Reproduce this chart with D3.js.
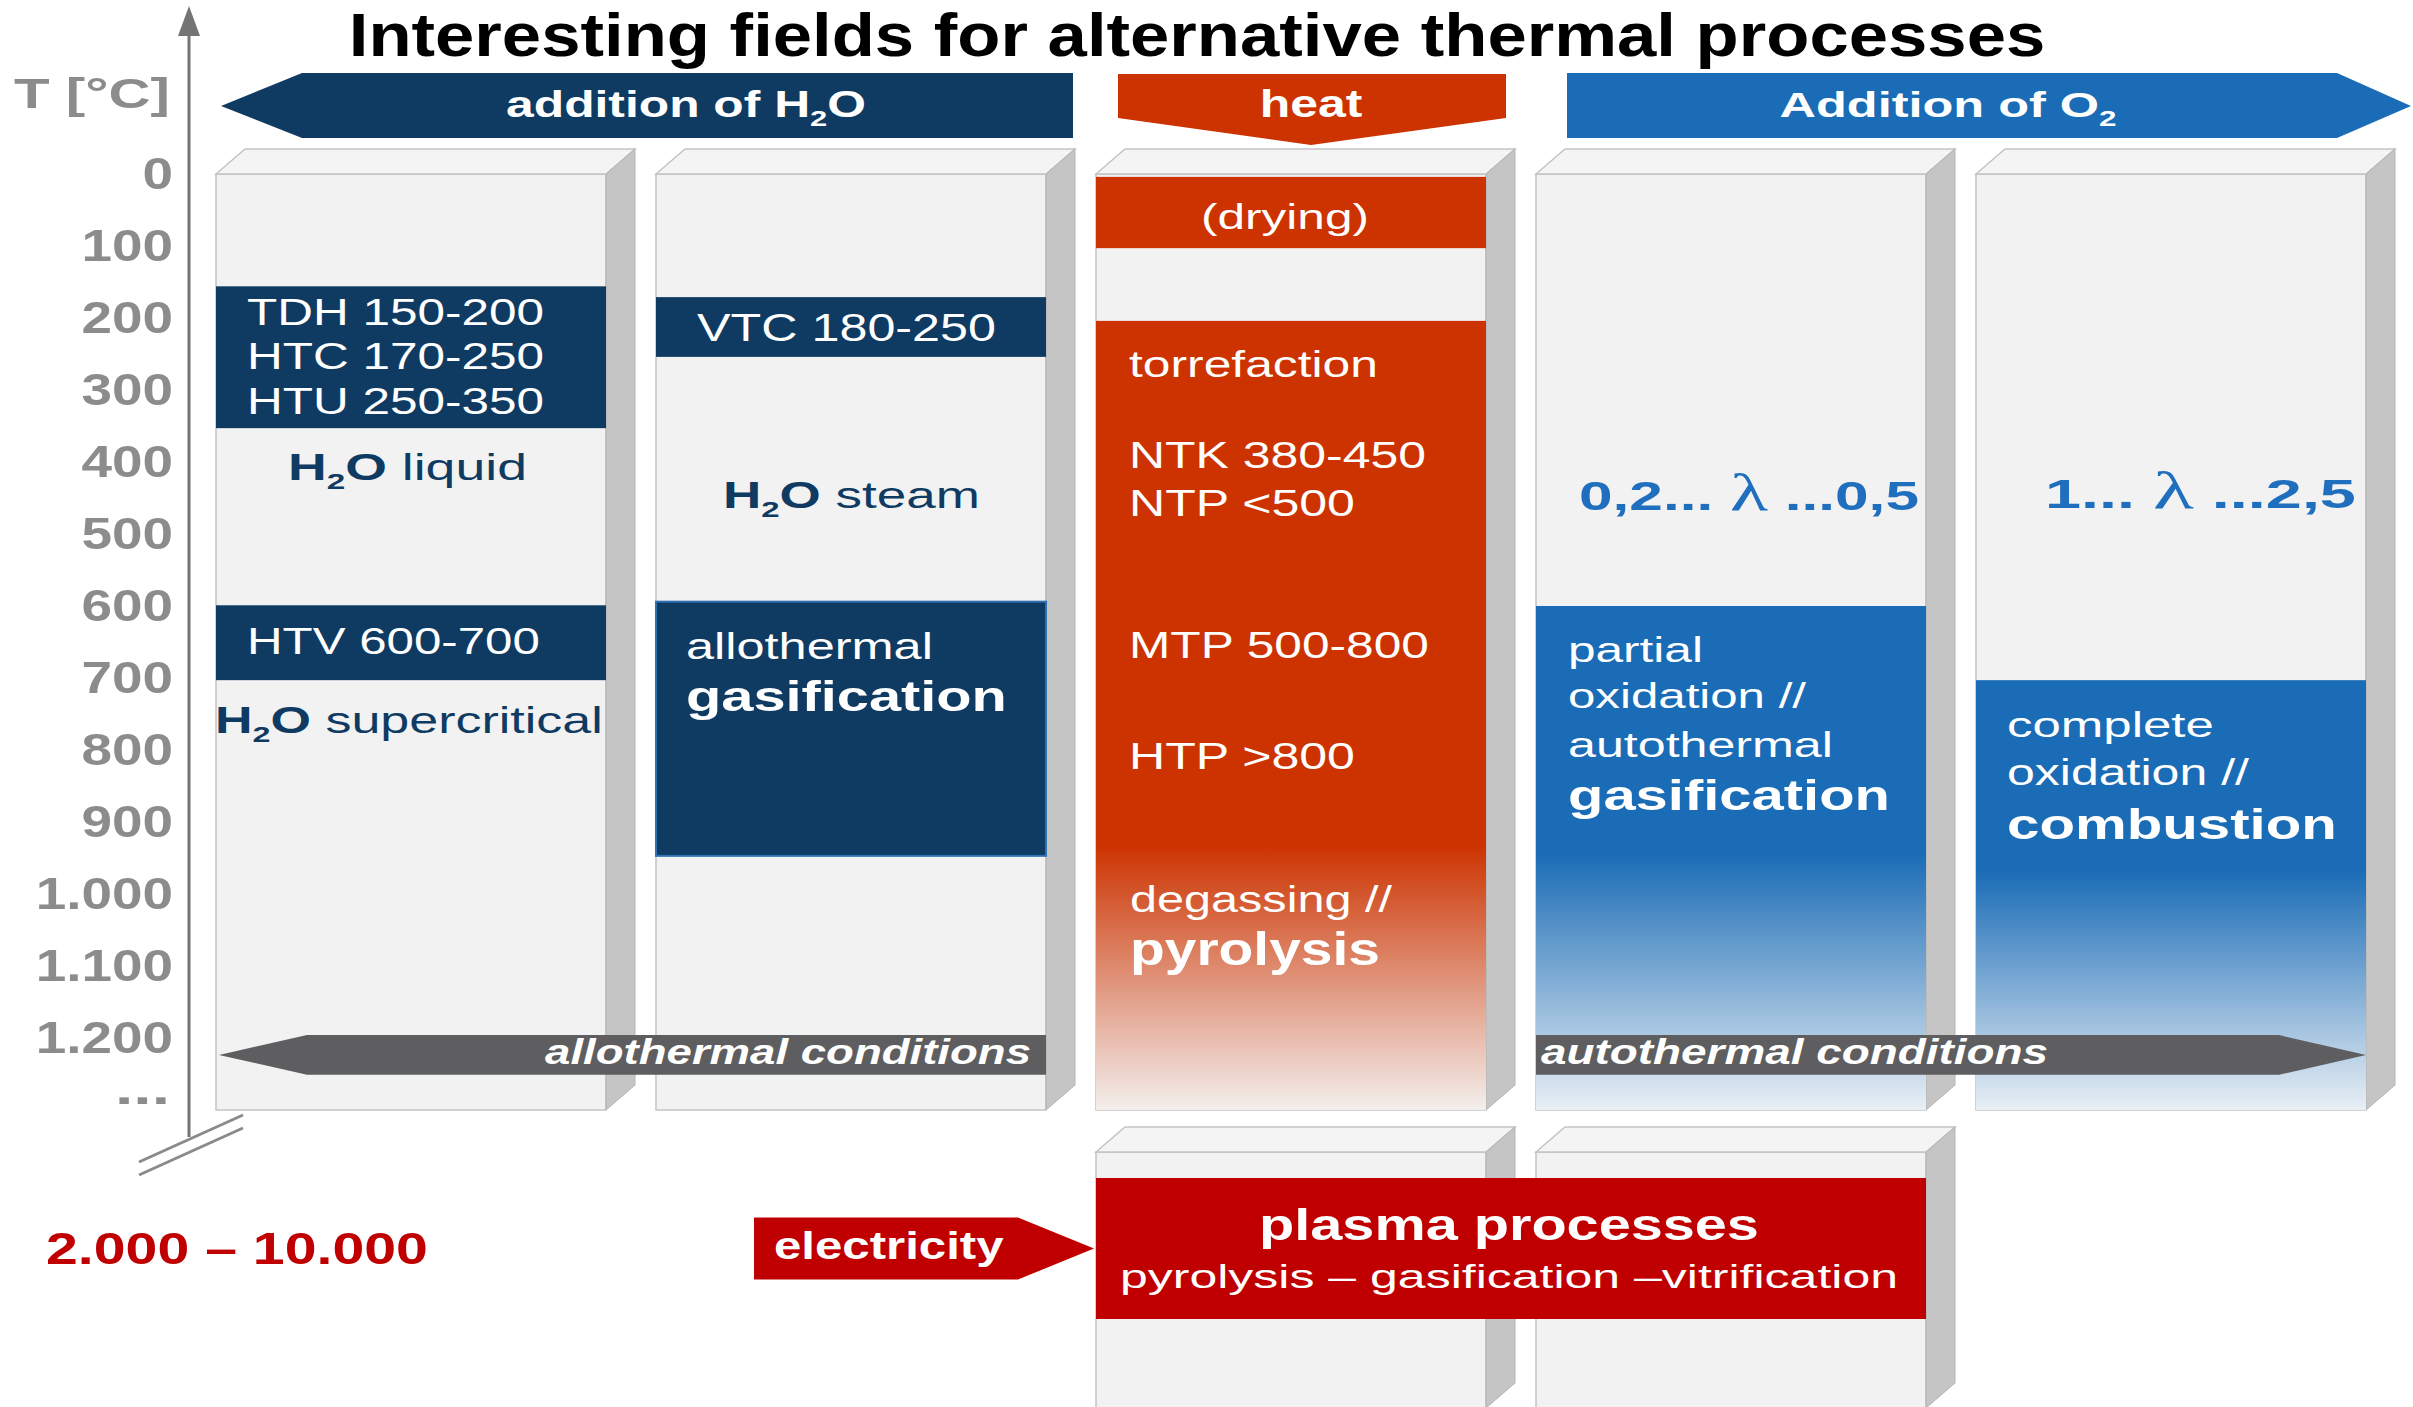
<!DOCTYPE html>
<html>
<head>
<meta charset="utf-8">
<script src="https://cdn.jsdelivr.net/npm/d3@7"></script>
<style>
  html, body { margin: 0; padding: 0; background: #ffffff; }
  svg { display: block; }
</style>
</head>
<body>
<svg id="chart" width="2413" height="1407"></svg>
<script>
// ---------------- data ----------------
const titleText = "Interesting fields for alternative thermal processes";
const axisTitle = "T [°C]";
const tempTicks = [0, 100, 200, 300, 400, 500, 600, 700, 800, 900, 1000, 1100, 1200];
const tempTickLabels = ["0", "100", "200", "300", "400", "500", "600", "700", "800", "900", "1.000", "1.100", "1.200"];
const columnKeys = ["h2oLiquid", "h2oSteam", "heat", "partialOxidation", "completeOxidation"];
const columnSpan = [0, 1300];          // every column covers 0 … 1.300 °C
const ellipsisAt = 1270;               // "..." below the last tick

// temperature windows (°C) drawn inside the columns
const processBands = [
  { column: "h2oLiquid",         from: 156, to: 353,  kind: "navy" },
  { column: "h2oLiquid",         from: 599, to: 703,  kind: "navy" },
  { column: "h2oSteam",          from: 171, to: 254,  kind: "navy" },
  { column: "h2oSteam",          from: 594, to: 947,  kind: "navyOutlined" },
  { column: "heat",              from: 4,   to: 103,  kind: "orange" },
  { column: "heat",              from: 204, to: 1300, kind: "orangeFade", fadeFrom: 932 },
  { column: "partialOxidation",  from: 600, to: 1300, kind: "blueFade",   fadeFrom: 944 },
  { column: "completeOxidation", from: 703, to: 1300, kind: "blueFade",   fadeFrom: 967 }
];
const conditionRange = [1196, 1251];   // band carrying the allo-/autothermal arrows
const plasmaRange = [2000, 10000];     // plasma temperatures (°C)
const plasmaColumns = ["heat", "partialOxidation"];

const headerTexts = ["*addition of H{2}O*", "*heat*", "*Addition of O{2}*"];
const liquidTexts = ["TDH  150-200", "HTC  170-250", "HTU  250-350", "*H{2}O* liquid", "HTV 600-700", "*H{2}O* supercritical"];
const steamTexts = ["VTC  180-250", "*H{2}O* steam", "allothermal", "*gasification*"];
const heatTexts = ["(drying)", "torrefaction", "NTK 380-450", "NTP <500", "MTP 500-800", "HTP >800", "degassing //", "*pyrolysis*"];
const partialTexts = ["*0,2... λ ...0,5*", "partial", "oxidation //", "autothermal", "*gasification*"];
const completeTexts = ["*1...  λ ...2,5*", "complete", "oxidation //", "*combustion*"];
const conditionTexts = ["allothermal conditions", "autothermal conditions"];
const plasmaTexts = ["*plasma processes*", "pyrolysis – gasification –vitrification"];
const plasmaRangeText = "2.000 – 10.000";
const electricityText = "electricity";

// ---------------- styles ----------------
const SANS = "'Liberation Sans', Arial, Helvetica, sans-serif";
const SERIF = "'Liberation Serif', 'Times New Roman', serif";
const NAVY = "#0f3b63", ORANGE = "#cc3300", BLUE = "#1a6cb6", RED = "#c00000";
const ARROW_GRAY = "#5e5e60", AXIS_GRAY = "#8c8c8c", LAMBDA_BLUE = "#1f6fbe";
const FACE = "#f2f2f2", SIDE = "#c5c5c5", TOP = "#f4f4f4", EDGE = "#c4c4c4";
const bandFill = { navy: NAVY, navyOutlined: NAVY, orange: ORANGE };
const fadeColors = { orangeFade: [ORANGE, "#f3efed"], blueFade: [BLUE, "#e9eff5"] };

// ---------------- layout ----------------
const DX = 29, DY = 25;                 // depth offset of the 3-D boxes
const WHITE = "#ffffff";

const headerLayout = [
  { x: 686, y: 117, size: 36, w: 360, anchor: "middle" },
  { x: 1311, y: 117, size: 38, w: 103, anchor: "middle" },
  { x: 1948, y: 117, size: 36, w: 337, anchor: "middle" }
];
const liquidLayout = [
  { x: 247, y: 325, size: 37, w: 297 },
  { x: 247, y: 369, size: 37, w: 297 },
  { x: 247, y: 414, size: 37, w: 297 },
  { x: 288, y: 480, size: 37, w: 239, fill: NAVY },
  { x: 247, y: 654, size: 37, w: 293 },
  { x: 215, y: 733, size: 37, w: 388, fill: NAVY }
];
const steamLayout = [
  { x: 697, y: 341, size: 38, w: 299 },
  { x: 723, y: 508, size: 37, w: 257, fill: NAVY },
  { x: 686, y: 659, size: 37, w: 247 },
  { x: 686, y: 711, size: 43, w: 321 }
];
const heatLayout = [
  { x: 1285, y: 229, size: 36, w: 168, anchor: "middle" },
  { x: 1129, y: 377, size: 37, w: 249 },
  { x: 1129, y: 468, size: 37, w: 297 },
  { x: 1129, y: 516, size: 37, w: 226 },
  { x: 1129, y: 658, size: 37, w: 300 },
  { x: 1129, y: 769, size: 37, w: 226 },
  { x: 1130, y: 912, size: 37, w: 263 },
  { x: 1130, y: 965, size: 46, w: 250 }
];
const partialLayout = [
  { x: 1579, y: 510, size: 40, w: 340, fill: LAMBDA_BLUE },
  { x: 1568, y: 662, size: 36, w: 135 },
  { x: 1568, y: 708, size: 36, w: 238 },
  { x: 1568, y: 757, size: 36, w: 265 },
  { x: 1568, y: 810, size: 43, w: 322 }
];
const completeLayout = [
  { x: 2045, y: 508, size: 40, w: 311, fill: LAMBDA_BLUE },
  { x: 2007, y: 737, size: 36, w: 207 },
  { x: 2007, y: 785, size: 36, w: 242 },
  { x: 2007, y: 839, size: 43, w: 330 }
];
const conditionLayout = [
  { x: 1031, y: 1064, size: 36, w: 486, anchor: "end", bold: true, italic: true },
  { x: 1541, y: 1064, size: 36, w: 507, bold: true, italic: true }
];
const plasmaLayout = [
  { x: 1509, y: 1240, size: 44, w: 500, anchor: "middle" },
  { x: 1509, y: 1288, size: 34, w: 778, anchor: "middle" }
];

// ---------------- scales ----------------
const y = d3.scaleLinear().domain([0, 1200]).range([174, 1038]);
const yPlasma = d3.scaleLinear().domain(plasmaRange).range([1178, 1319]);
const x = d3.scaleBand().domain(columnKeys).range([216, 2366]).paddingInner(0.1136).paddingOuter(0);
const bw = x.bandwidth();

const svg = d3.select("#chart");
const defs = svg.append("defs");

// ---------------- rich text helper ----------------
// "*…*" toggles bold, "{…}" is a subscript, λ is set in a serif face
function parseRich(str) {
  const segs = [];
  let bold = false, sub = false, cur = "";
  const flush = () => { if (cur) segs.push({ text: cur, bold, sub }); cur = ""; };
  for (const ch of str) {
    if (ch === "*") { flush(); bold = !bold; }
    else if (ch === "{") { flush(); sub = true; }
    else if (ch === "}") { flush(); sub = false; }
    else if (ch === "λ") { flush(); segs.push({ text: ch, bold: false, sub: false, serif: true }); }
    else cur += ch;
  }
  flush();
  return segs;
}

function label(parent, str, o) {
  const t = parent.append("text")
    .attr("font-family", SANS)
    .attr("font-size", o.size)
    .attr("font-weight", o.bold ? "bold" : "normal")
    .attr("font-style", o.italic ? "italic" : "normal")
    .attr("fill", o.fill || WHITE)
    .attr("text-anchor", o.anchor || "start");
  let shift = 0;
  for (const seg of parseRich(str)) {
    const ts = t.append("tspan").text(seg.text);
    if (!o.bold) ts.attr("font-weight", seg.bold ? "bold" : "normal");
    if (seg.serif) ts.attr("font-family", SERIF).attr("font-weight", "normal").attr("font-size", o.size * 1.3);
    const want = seg.sub ? o.size * 0.24 : 0;
    if (want !== shift) { ts.attr("dy", want - shift); shift = want; }
    if (seg.sub) ts.attr("font-size", o.size * 0.62);
  }
  // stretch horizontally to the set width
  let sx = o.sx || 1.33;
  if (o.w) {
    const bb = t.node().getBBox();
    if (bb.width > 0) sx = o.w / bb.width;
  }
  t.attr("transform", `translate(${o.x},${o.y}) scale(${sx},1)`);
  return t;
}

function labelGroup(texts, layout) {
  const g = svg.append("g");
  texts.forEach((s, i) => label(g, s, layout[i]));
}

// ---------------- title ----------------
label(svg, titleText, { x: 1197, y: 56, size: 61, w: 1697, anchor: "middle", bold: true, fill: "#000000" });

// ---------------- header arrows ----------------
const headers = svg.append("g");
headers.append("path")   // addition of water, pointing left
  .attr("d", "M221,106 L302,73 L1073,73 L1073,138 L302,138 Z").attr("fill", NAVY);
headers.append("path")   // heat, pointing down
  .attr("d", "M1118,74 L1506,74 L1506,118 L1311,145 L1118,118 Z").attr("fill", ORANGE);
headers.append("path")   // addition of oxygen, pointing right
  .attr("d", "M1567,73 L2337,73 L2411,106 L2337,138 L1567,138 Z").attr("fill", BLUE);
labelGroup(headerTexts, headerLayout.map(d => ({ ...d, bold: true })));

// ---------------- 3-D boxes ----------------
function box(parent, x0, top, bottom) {
  const x1 = x0 + bw;
  parent.append("rect").attr("x", x0).attr("y", top).attr("width", bw).attr("height", bottom - top)
    .attr("fill", FACE).attr("stroke", EDGE).attr("stroke-width", 1.5);
  parent.append("path")
    .attr("d", `M${x0},${top} L${x0 + DX},${top - DY} L${x1 + DX},${top - DY} L${x1},${top} Z`)
    .attr("fill", TOP).attr("stroke", EDGE).attr("stroke-width", 1.5);
  parent.append("path")
    .attr("d", `M${x1},${top} L${x1 + DX},${top - DY} L${x1 + DX},${bottom - DY} L${x1},${bottom} Z`)
    .attr("fill", SIDE).attr("stroke", "#b4b4b4").attr("stroke-width", 1);
}

const columnsG = svg.append("g");
columnKeys.forEach(k => box(columnsG, x(k), y(columnSpan[0]), y(columnSpan[1])));

// ---------------- process bands ----------------
const bandsG = svg.append("g");
processBands.forEach((b, i) => {
  let fill = bandFill[b.kind];
  if (fadeColors[b.kind]) {
    const id = "fade" + i;
    const grad = defs.append("linearGradient").attr("id", id)
      .attr("gradientUnits", "userSpaceOnUse")
      .attr("x1", 0).attr("x2", 0).attr("y1", y(b.fadeFrom)).attr("y2", y(b.to));
    grad.append("stop").attr("offset", 0).attr("stop-color", fadeColors[b.kind][0]);
    grad.append("stop").attr("offset", 1).attr("stop-color", fadeColors[b.kind][1]);
    fill = `url(#${id})`;
  }
  const r = bandsG.append("rect")
    .attr("x", x(b.column)).attr("width", bw)
    .attr("y", y(b.from)).attr("height", y(b.to) - y(b.from))
    .attr("fill", fill);
  if (b.kind === "navyOutlined") r.attr("stroke", "#2f72b3").attr("stroke-width", 2);
});

// ---------------- condition arrows ----------------
const yc0 = y(conditionRange[0]), yc1 = y(conditionRange[1]), ycm = (yc0 + yc1) / 2;
const condG = svg.append("g");
{
  const tip = x("h2oLiquid") + 3, end = x("h2oSteam") + bw;
  condG.append("path")
    .attr("d", `M${tip},${ycm} L${tip + 88},${yc0} L${end},${yc0} L${end},${yc1} L${tip + 88},${yc1} Z`)
    .attr("fill", ARROW_GRAY);
  const start = x("partialOxidation"), tip2 = x("completeOxidation") + bw;
  condG.append("path")
    .attr("d", `M${start},${yc0} L${tip2 - 87},${yc0} L${tip2},${ycm} L${tip2 - 87},${yc1} L${start},${yc1} Z`)
    .attr("fill", ARROW_GRAY);
}
labelGroup(conditionTexts, conditionLayout);

// ---------------- column texts ----------------
labelGroup(liquidTexts, liquidLayout);
labelGroup(steamTexts, steamLayout);
labelGroup(heatTexts, heatLayout);
labelGroup(partialTexts, partialLayout);
labelGroup(completeTexts, completeLayout);

// ---------------- temperature axis ----------------
const axisG = svg.append("g").attr("transform", "translate(189,0)");
axisG.call(d3.axisLeft(y).tickValues(tempTicks).tickFormat((d, i) => tempTickLabels[i]).tickSize(0).tickPadding(13));
axisG.select(".domain").remove();
axisG.selectAll(".tick text")
  .attr("font-family", SANS).attr("font-size", 45).attr("font-weight", "bold")
  .attr("fill", AXIS_GRAY).attr("transform", "scale(1.22,1)");
label(svg, "...", { x: 170, y: y(ellipsisAt) + 16, size: 45, w: 55, anchor: "end", bold: true, fill: AXIS_GRAY });

svg.append("line").attr("x1", 189).attr("x2", 189).attr("y1", 20).attr("y2", 1137)
  .attr("stroke", "#747474").attr("stroke-width", 3);
svg.append("path").attr("d", "M189,6 L178,36 L200,36 Z").attr("fill", "#747474");
svg.append("line").attr("x1", 139).attr("y1", 1162).attr("x2", 243).attr("y2", 1115)
  .attr("stroke", "#8a8a8a").attr("stroke-width", 3);
svg.append("line").attr("x1", 139).attr("y1", 1175).attr("x2", 243).attr("y2", 1128)
  .attr("stroke", "#8a8a8a").attr("stroke-width", 3);
label(svg, axisTitle, { x: 14, y: 108, size: 42, w: 156, bold: true, fill: AXIS_GRAY });

// ---------------- plasma section ----------------
const plasmaG = svg.append("g");
plasmaColumns.forEach(k => box(plasmaG, x(k), yPlasma(plasmaRange[0]) - 26, 1408));
plasmaG.append("rect")
  .attr("x", x(plasmaColumns[0])).attr("width", x(plasmaColumns[1]) + bw - x(plasmaColumns[0]))
  .attr("y", yPlasma(plasmaRange[0])).attr("height", yPlasma(plasmaRange[1]) - yPlasma(plasmaRange[0]))
  .attr("fill", RED);
labelGroup(plasmaTexts, plasmaLayout);

const ym = (yPlasma(plasmaRange[0]) + yPlasma(plasmaRange[1])) / 2;
plasmaG.append("path")   // electricity, pointing right
  .attr("d", `M754,${ym - 31} L1018,${ym - 31} L1094,${ym} L1018,${ym + 31} L754,${ym + 31} Z`)
  .attr("fill", RED);
label(svg, electricityText, { x: 774, y: ym + 10, size: 39, w: 230, bold: true });
label(svg, plasmaRangeText, { x: 46, y: ym + 15, size: 44, w: 382, bold: true, fill: RED });
</script>
</body>
</html>
